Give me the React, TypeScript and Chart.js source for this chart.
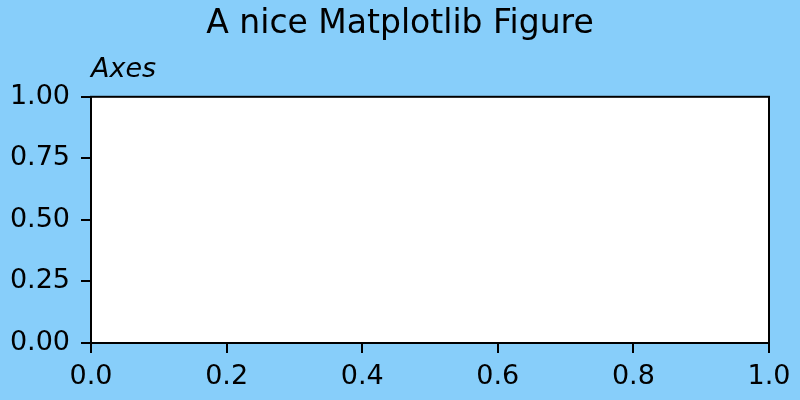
import React, { useEffect, useRef } from 'react';
import { Chart, registerables } from 'chart.js';

Chart.register(...registerables);

const figureTitle = 'A nice Matplotlib Figure';
const axesTitle = 'Axes';
const xTicks = [0, 0.2, 0.4, 0.6, 0.8, 1.0];
const yTicks = [0, 0.25, 0.5, 0.75, 1.0];
const points: { x: number; y: number }[] = [];

const FONT = "'DejaVu Sans', sans-serif";

// white axes face and the four spines like matplotlib
const axesFrame = {
  id: 'axesFrame',
  beforeDraw(chart: Chart) {
    const { ctx, chartArea: a } = chart;
    ctx.save();
    ctx.fillStyle = '#ffffff';
    ctx.fillRect(a.left, a.top, a.right - a.left, a.bottom - a.top);
    ctx.restore();
  },
  afterDraw(chart: Chart) {
    const { ctx, chartArea: a } = chart;
    ctx.save();
    ctx.strokeStyle = '#000000';
    ctx.lineWidth = 2;
    ctx.strokeRect(a.left, a.top, a.right - a.left, a.bottom - a.top);
    ctx.restore();
  },
};

export default function App() {
  const canvasRef = useRef<HTMLCanvasElement>(null);

  useEffect(() => {
    document.body.style.margin = '0';
    const ctx = canvasRef.current?.getContext('2d');
    let chart: Chart | undefined;
    if (ctx) {
      chart = new Chart(ctx, {
        type: 'scatter',
        data: { datasets: [{ data: points, showLine: false }] },
        options: {
          animation: false,
          responsive: true,
          maintainAspectRatio: false,
          layout: { padding: 0 },
          plugins: {
            legend: { display: false },
            tooltip: { enabled: false },
            title: {
              display: true,
              text: figureTitle,
              color: '#000',
              font: { family: FONT, size: 33, weight: 'normal' },
              padding: { top: 5, bottom: 0 },
            },
            subtitle: {
              display: true,
              text: axesTitle,
              align: 'start',
              fullSize: false,
              color: '#000',
              font: { family: FONT, size: 27, style: 'italic', weight: 'normal' },
              padding: { top: 9.5, bottom: 10.3 },
            },
          },
          scales: {
            x: {
              type: 'linear',
              min: 0,
              max: 1,
              afterBuildTicks: (s: any) => { s.ticks = xTicks.map((v) => ({ value: v })); },
              afterFit: (s: any) => { s.height = 57; },
              grid: { drawOnChartArea: false, drawTicks: true, tickLength: 10, color: '#000', lineWidth: 2 },
              border: { display: true, color: '#000', width: 2 },
              ticks: {
                color: '#000',
                padding: 8,
                autoSkip: false,
                maxRotation: 0,
                font: { family: FONT, size: 27 },
                callback: (v: any) => Number(v).toFixed(1),
              },
            },
            y: {
              type: 'linear',
              min: 0,
              max: 1,
              afterBuildTicks: (s: any) => { s.ticks = yTicks.map((v) => ({ value: v })); },
              afterFit: (s: any) => { s.width = 91; },
              grid: { drawOnChartArea: false, drawTicks: true, tickLength: 10, color: '#000', lineWidth: 2 },
              border: { display: true, color: '#000', width: 2 },
              ticks: {
                color: '#000',
                padding: 11,
                autoSkip: false,
                font: { family: FONT, size: 27 },
                callback: (v: any) => Number(v).toFixed(2),
              },
            },
            // empty right-hand margin so the figure title stays centred on the canvas
            yRight: {
              type: 'linear',
              position: 'right',
              min: 0,
              max: 1,
              afterFit: (s: any) => { s.width = 31; },
              grid: { display: false },
              border: { display: false },
              ticks: { display: false },
            },
          },
        },
        plugins: [axesFrame],
      });
    }
    return () => {
      chart?.destroy();
    };
  }, []);

  return (
    <div style={{ width: 800, height: 400, position: 'relative', backgroundColor: '#87CEFA' }}>
      <canvas ref={canvasRef}></canvas>
    </div>
  );
}
